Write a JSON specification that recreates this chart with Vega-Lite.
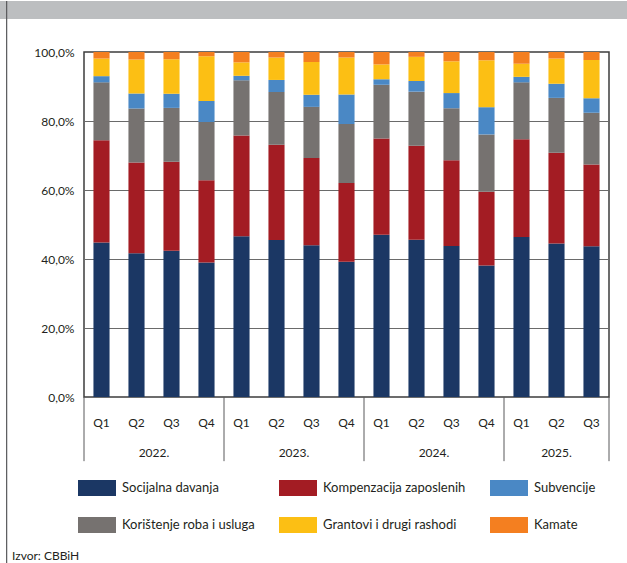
{
  "$schema": "https://vega.github.io/schema/vega-lite/v6.json",
  "padding": 0,
  "background": "white",
  "config": {
    "font": "Lato"
  },
  "width": 525,
  "height": 345,
  "view": {"stroke": "#3d3d3d", "strokeWidth": 1.5},
  "layer": [
    {
      "data": {"values": [
        {"p": "2022 Q1", "Socijalna davanja": 44.8, "Kompenzacija zaposlenih": 29.6, "Korištenje roba i usluga": 16.8, "Subvencije": 1.8, "Grantovi i drugi rashodi": 5.1, "Kamate": 1.9},
        {"p": "2022 Q2", "Socijalna davanja": 41.7, "Kompenzacija zaposlenih": 26.3, "Korištenje roba i usluga": 15.6, "Subvencije": 4.4, "Grantovi i drugi rashodi": 9.8, "Kamate": 2.2},
        {"p": "2022 Q3", "Socijalna davanja": 42.4, "Kompenzacija zaposlenih": 25.8, "Korištenje roba i usluga": 15.6, "Subvencije": 4.1, "Grantovi i drugi rashodi": 10.0, "Kamate": 2.1},
        {"p": "2022 Q4", "Socijalna davanja": 39.0, "Kompenzacija zaposlenih": 23.8, "Korištenje roba i usluga": 16.9, "Subvencije": 6.1, "Grantovi i drugi rashodi": 13.0, "Kamate": 1.2},
        {"p": "2023 Q1", "Socijalna davanja": 46.6, "Kompenzacija zaposlenih": 29.2, "Korištenje roba i usluga": 16.0, "Subvencije": 1.3, "Grantovi i drugi rashodi": 3.9, "Kamate": 3.0},
        {"p": "2023 Q2", "Socijalna davanja": 45.5, "Kompenzacija zaposlenih": 27.6, "Korištenje roba i usluga": 15.3, "Subvencije": 3.5, "Grantovi i drugi rashodi": 6.5, "Kamate": 1.6},
        {"p": "2023 Q3", "Socijalna davanja": 44.0, "Kompenzacija zaposlenih": 25.3, "Korištenje roba i usluga": 14.8, "Subvencije": 3.5, "Grantovi i drugi rashodi": 9.5, "Kamate": 2.9},
        {"p": "2023 Q4", "Socijalna davanja": 39.2, "Kompenzacija zaposlenih": 22.8, "Korištenje roba i usluga": 17.1, "Subvencije": 8.6, "Grantovi i drugi rashodi": 10.7, "Kamate": 1.6},
        {"p": "2024 Q1", "Socijalna davanja": 47.0, "Kompenzacija zaposlenih": 27.9, "Korištenje roba i usluga": 15.6, "Subvencije": 1.6, "Grantovi i drugi rashodi": 4.3, "Kamate": 3.6},
        {"p": "2024 Q2", "Socijalna davanja": 45.6, "Kompenzacija zaposlenih": 27.2, "Korištenje roba i usluga": 15.7, "Subvencije": 3.1, "Grantovi i drugi rashodi": 7.0, "Kamate": 1.4},
        {"p": "2024 Q3", "Socijalna davanja": 43.8, "Kompenzacija zaposlenih": 24.8, "Korištenje roba i usluga": 15.1, "Subvencije": 4.4, "Grantovi i drugi rashodi": 9.2, "Kamate": 2.7},
        {"p": "2024 Q4", "Socijalna davanja": 38.1, "Kompenzacija zaposlenih": 21.4, "Korištenje roba i usluga": 16.6, "Subvencije": 7.9, "Grantovi i drugi rashodi": 13.6, "Kamate": 2.4},
        {"p": "2025 Q1", "Socijalna davanja": 46.4, "Kompenzacija zaposlenih": 28.3, "Korištenje roba i usluga": 16.5, "Subvencije": 1.6, "Grantovi i drugi rashodi": 3.8, "Kamate": 3.4},
        {"p": "2025 Q2", "Socijalna davanja": 44.5, "Kompenzacija zaposlenih": 26.3, "Korištenje roba i usluga": 15.9, "Subvencije": 4.1, "Grantovi i drugi rashodi": 7.3, "Kamate": 1.9},
        {"p": "2025 Q3", "Socijalna davanja": 43.7, "Kompenzacija zaposlenih": 23.7, "Korištenje roba i usluga": 15.0, "Subvencije": 4.2, "Grantovi i drugi rashodi": 11.1, "Kamate": 2.3}
      ]},
      "transform": [
        {"fold": ["Socijalna davanja", "Kompenzacija zaposlenih", "Korištenje roba i usluga", "Subvencije", "Grantovi i drugi rashodi", "Kamate"], "as": ["cat", "value"]},
        {"lookup": "cat", "from": {"data": {"values": [
          {"cat": "Socijalna davanja", "rank": 1},
          {"cat": "Kompenzacija zaposlenih", "rank": 2},
          {"cat": "Korištenje roba i usluga", "rank": 3},
          {"cat": "Subvencije", "rank": 4},
          {"cat": "Grantovi i drugi rashodi", "rank": 5},
          {"cat": "Kamate", "rank": 6}
        ]}, "key": "cat", "fields": ["rank"]}}
      ],
      "mark": {"type": "bar", "width": {"band": 0.46}},
      "encoding": {
        "x": {
          "field": "p", "type": "ordinal", "title": null,
          "scale": {"paddingInner": 0, "paddingOuter": 0},
          "axis": {"bandPosition": 0.5, "domain": false, "ticks": false, "grid": false, "labelPadding": 20, "labelFontSize": 12, "labelColor": "#231f20", "labelAngle": 0, "labelAlign": "center", "labelExpr": "split(datum.value, ' ')[1]"}
        },
        "y": {
          "field": "value", "type": "quantitative", "stack": "normalize", "title": null,
          "scale": {"domain": [0, 1], "nice": false},
          "axis": {"domain": false, "ticks": false, "labelPadding": 10, "labelFontSize": 12, "labelColor": "#231f20", "values": [0, 0.2, 0.4, 0.6, 0.8, 1], "labelExpr": "replace(format(datum.value * 100, '.1f'), '.', ',') + '%'", "gridColor": {"condition": {"test": "datum.value == 0 || datum.value == 1", "value": "transparent"}, "value": "#6a6a6a"}, "gridWidth": 1}
        },
        "order": {"field": "rank", "type": "quantitative", "sort": "ascending"},
        "color": {
          "field": "cat",
          "type": "nominal",
          "scale": {
            "domain": ["Socijalna davanja", "Kompenzacija zaposlenih", "Korištenje roba i usluga", "Subvencije", "Grantovi i drugi rashodi", "Kamate"],
            "range": ["#1b3764", "#a31c23", "#767270", "#4a88c5", "#fcbf14", "#f47f20"]
          },
          "legend": {
            "title": null,
            "orient": "none",
            "direction": "horizontal",
            "legendX": -6,
            "legendY": 417,
            "columns": 3,
            "columnPadding": 24,
            "rowPadding": 10,
            "values": ["Socijalna davanja", "Kompenzacija zaposlenih", "Subvencije", "Korištenje roba i usluga", "Grantovi i drugi rashodi", "Kamate"],
            "symbolType": "M-1,-0.42H1V0.42H-1Z",
            "symbolSize": 1444,
            "symbolStrokeWidth": 0,
            "symbolOpacity": 1,
            "labelFontSize": 13,
            "labelOffset": 6,
            "labelLimit": 300,
            "labelColor": "#231f20"
          }
        }
      }
    },
    {
      "data": {"values": [{"s": "2022 Q1", "e": "2025 Q3"}]},
      "mark": {"type": "rect", "color": "#bcbec0"},
      "encoding": {
        "x": {"field": "s", "type": "ordinal", "bandPosition": -2.4, "title": null},
        "x2": {"field": "e", "bandPosition": 1.52},
        "y": {"datum": 1.1478, "type": "quantitative"},
        "y2": {"datum": 1.0957}
      }
    },
    {
      "data": {"values": [{"s": "2022 Q1"}]},
      "mark": {"type": "rule", "color": "#58595b", "strokeWidth": 1.2},
      "encoding": {
        "x": {"field": "s", "type": "ordinal", "bandPosition": -2.21, "title": null},
        "y": {"datum": 1.1478, "type": "quantitative"},
        "y2": {"datum": -0.484}
      }
    },
    {
      "data": {"values": [{"s": "2022 Q1", "note": "Izvor: CBBiH"}]},
      "mark": {"type": "text", "fontSize": 12, "color": "#231f20", "align": "left", "baseline": "middle"},
      "encoding": {
        "x": {"field": "s", "type": "ordinal", "bandPosition": -2.057, "title": null},
        "y": {"datum": -0.461, "type": "quantitative"},
        "text": {"field": "note"}
      }
    },
    {
      "data": {"values": [{"p": "2022 Q1"}, {"p": "2023 Q1"}, {"p": "2024 Q1"}, {"p": "2025 Q1"}]},
      "mark": {"type": "rule", "color": "#58595b", "strokeWidth": 1},
      "encoding": {
        "x": {"field": "p", "type": "ordinal", "bandPosition": 0, "title": null},
        "y": {"datum": 0, "type": "quantitative"},
        "y2": {"datum": -0.186}
      }
    },
    {
      "data": {"values": [{"p": "2025 Q3"}]},
      "mark": {"type": "rule", "color": "#58595b", "strokeWidth": 1},
      "encoding": {
        "x": {"field": "p", "type": "ordinal", "bandPosition": 1, "title": null},
        "y": {"datum": 0, "type": "quantitative"},
        "y2": {"datum": -0.186}
      }
    },
    {
      "data": {"values": [{"p": "2022 Q2", "label": "2022."}, {"p": "2023 Q2", "label": "2023."}, {"p": "2024 Q2", "label": "2024."}]},
      "mark": {"type": "text", "fontSize": 12, "color": "#231f20", "baseline": "middle"},
      "encoding": {
        "x": {"field": "p", "type": "ordinal", "bandPosition": 1, "title": null},
        "y": {"datum": -0.162, "type": "quantitative"},
        "text": {"field": "label"}
      }
    },
    {
      "data": {"values": [{"p": "2025 Q2", "label": "2025."}]},
      "mark": {"type": "text", "fontSize": 12, "color": "#231f20", "baseline": "middle"},
      "encoding": {
        "x": {"field": "p", "type": "ordinal", "bandPosition": 0.5, "title": null},
        "y": {"datum": -0.162, "type": "quantitative"},
        "text": {"field": "label"}
      }
    }
  ]
}
